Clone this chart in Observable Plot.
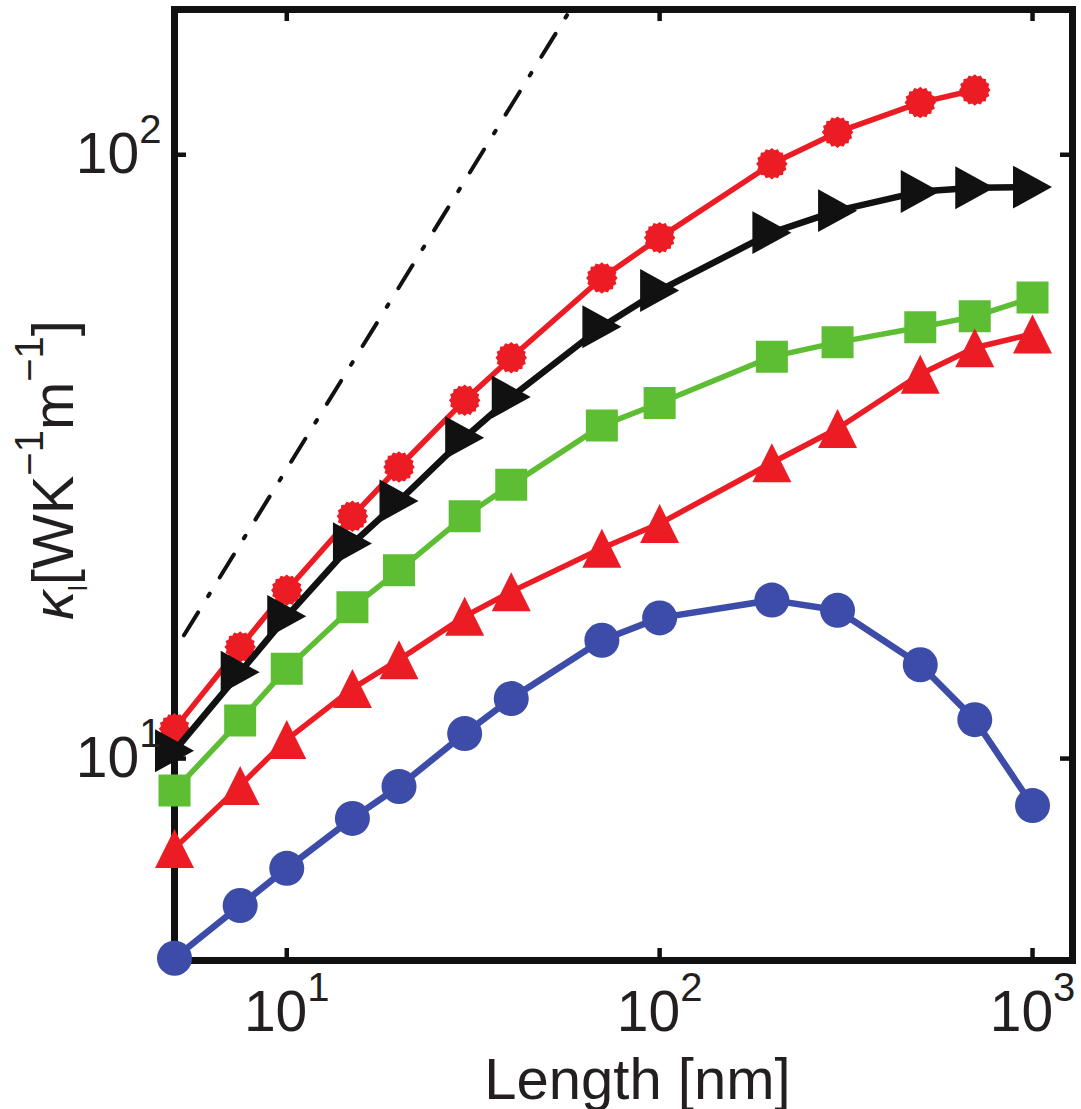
<!DOCTYPE html>
<html><head><meta charset="utf-8">
<script src="https://cdn.jsdelivr.net/npm/d3@7"></script>
<script src="https://cdn.jsdelivr.net/npm/@observablehq/plot@0.6"></script>
<style>html,body{margin:0;padding:0;background:#fff;}</style>
</head><body><div id="chart"></div>
<script>
// ---- data ----
const lengths = [5, 7.5, 10, 15, 20, 30, 40, 70, 100, 200, 300, 500, 700, 1000];
const kappaRedStar   = [11.2, 15.3, 19.0, 25.2, 30.4, 39.2, 46.1, 62.5, 72.9, 96.6, 109, 122, 128];
const kappaBlackTri  = [10.3, 13.9, 17.2, 22.7, 26.7, 34.0, 39.7, 51.9, 59.6, 74.3, 80.8, 86.9, 88.2, 88.4];
const kappaGreenSq   = [8.85, 11.56, 14.09, 17.8, 20.5, 25.2, 28.4, 35.6, 38.8, 46.3, 48.9, 51.8, 54.0, 58.0];
const kappaRedTri    = [7.10, 9.02, 10.75, 13.06, 14.58, 17.2, 18.9, 22.3, 24.5, 30.9, 35.2, 43.3, 47.9, 50.5];
const kappaBlueCirc  = [4.67, 5.71, 6.58, 7.96, 8.99, 11.0, 12.57, 15.7, 17.1, 18.3, 17.6, 14.3, 11.6, 8.36];
const ballisticL     = [5.3, 60];
const ballisticKappa = [16.0, 181];
const xTicks = [10, 100, 1000];
const yTicks = [10, 100];
const xLabel = "Length [nm]";

// ---- layout ----
const W = 1081, H = 1109, mL = 174, mR = 9, mT = 9, mB = 149;
const innerW = W - mL - mR, innerH = H - mT - mB, tickLen = 12;
const RED = "#EC1C24", BLACK = "#111111", GREEN = "#5DBE34", BLUE = "#3C4CA8", INK = "#231F20";
const FONT = "'Liberation Sans', Arial, Helvetica, sans-serif";

function sym(fn) { return {draw(c, size) { fn(c, Math.sqrt(size / Math.PI)); }}; }
const triUp = sym((c, r) => { c.moveTo(0, -r); c.lineTo(r, r); c.lineTo(-r, r); c.closePath(); });
const triRight = sym((c, r) => { c.moveTo(r, 0); c.lineTo(-r, -1.1 * r); c.lineTo(-r, 1.1 * r); c.closePath(); });
const square = sym((c, r) => { c.moveTo(-r, -r); c.lineTo(r, -r); c.lineTo(r, r); c.lineTo(-r, r); c.closePath(); });
const starCircle = sym((c, r) => {
  const n = 16;
  for (let i = 0; i < 2 * n; i++) {
    const a = Math.PI * i / n, rr = i % 2 ? r * 0.92 : r * 1.05;
    const x = rr * Math.sin(a), y = -rr * Math.cos(a);
    if (i) c.lineTo(x, y); else c.moveTo(x, y);
  }
  c.closePath();
});

const rows = (vals) => vals.map((k, i) => ({L: lengths[i], k}));
const series = [
  {data: rows(kappaRedStar),  color: RED,   symbol: starCircle, r: 15,   sw: 5.5},
  {data: rows(kappaBlackTri), color: BLACK, symbol: triRight,   r: 19.5, sw: 6.5},
  {data: rows(kappaGreenSq),  color: GREEN, symbol: square,     r: 16,   sw: 5.5},
  {data: rows(kappaRedTri),   color: RED,   symbol: triUp,      r: 19.5, sw: 5.5},
  {data: rows(kappaBlueCirc), color: BLUE,  symbol: "circle",   r: 17.5, sw: 6.5}
];
const ballistic = ballisticL.map((L, i) => ({L, k: ballisticKappa[i]}));

const marks = [
  Plot.frame({stroke: BLACK, strokeWidth: 7}),
  Plot.tickX(xTicks, {x: d => d, insetTop: innerH - tickLen, stroke: BLACK, strokeWidth: 4.5}),
  Plot.tickX(xTicks, {x: d => d, insetBottom: innerH - tickLen, stroke: BLACK, strokeWidth: 4.5}),
  Plot.tickY(yTicks, {y: d => d, insetRight: innerW - tickLen, stroke: BLACK, strokeWidth: 4.5}),
  Plot.tickY(yTicks, {y: d => d, insetLeft: innerW - tickLen, stroke: BLACK, strokeWidth: 4.5}),
  Plot.line(ballistic, {x: "L", y: "k", clip: true, stroke: BLACK, strokeWidth: 4, strokeDasharray: "27,19,3,19"})
];
for (const s of series) {
  marks.push(Plot.line(s.data, {x: "L", y: "k", stroke: s.color, strokeWidth: s.sw, strokeLinejoin: "round"}));
  marks.push(Plot.dot(s.data, {x: "L", y: "k", symbol: s.symbol, r: s.r, fill: s.color, stroke: "none"}));
}
marks.push(
  Plot.axisX({ticks: xTicks, tickFormat: d => "10^" + Math.round(Math.log10(d)), tickSize: 0, tickPadding: 30,
              fontSize: 57, fill: INK, label: null}),
  Plot.axisY({ticks: yTicks, tickFormat: d => "10^" + Math.round(Math.log10(d)), tickSize: 0, tickPadding: 13,
              fontSize: 57, fill: INK, label: null}),
  Plot.text([xLabel], {text: d => d, frameAnchor: "bottom", dx: 14, dy: 138, lineAnchor: "bottom",
                       textAnchor: "middle", fontSize: 58, fill: INK}),
  Plot.text(["YLABEL"], {text: d => d, frameAnchor: "left", dx: -102, dy: -15, rotate: -90, lineAnchor: "bottom",
                         textAnchor: "middle", fontSize: 58, fill: INK})
);

const chart = Plot.plot({
  width: W, height: H,
  marginLeft: mL, marginRight: mR, marginTop: mT, marginBottom: mB,
  x: {type: "log", domain: [5, 1280]},
  y: {type: "log", domain: [4.63, 174]},
  style: {fontFamily: FONT, background: "#fff", overflow: "visible"},
  marks
});
document.getElementById("chart").appendChild(chart);

// superscript tick labels: 10^n
d3.select(chart).selectAll("text").each(function () {
  const t = this.textContent, m = /^10\^(-?\d+)$/.exec(t);
  const sel = d3.select(this);
  if (m) {
    sel.text(null);
    sel.append("tspan").text("10");
    sel.append("tspan").attr("dy", "-30px").attr("font-size", "40px").text(m[1]);
  } else if (t === "YLABEL") {
    sel.text(null);
    sel.append("tspan").attr("font-style", "italic").text("κ");
    sel.append("tspan").attr("dy", "14px").attr("font-size", "26px").text("l");
    sel.append("tspan").attr("dy", "-14px").text("[WK");
    sel.append("tspan").attr("dy", "-30px").attr("font-size", "40px").text("−1");
    sel.append("tspan").attr("dy", "30px").text("m");
    sel.append("tspan").attr("dy", "-30px").attr("font-size", "40px").text("−1");
    sel.append("tspan").attr("dy", "30px").text("]");
  }
});
</script>
</body></html>
